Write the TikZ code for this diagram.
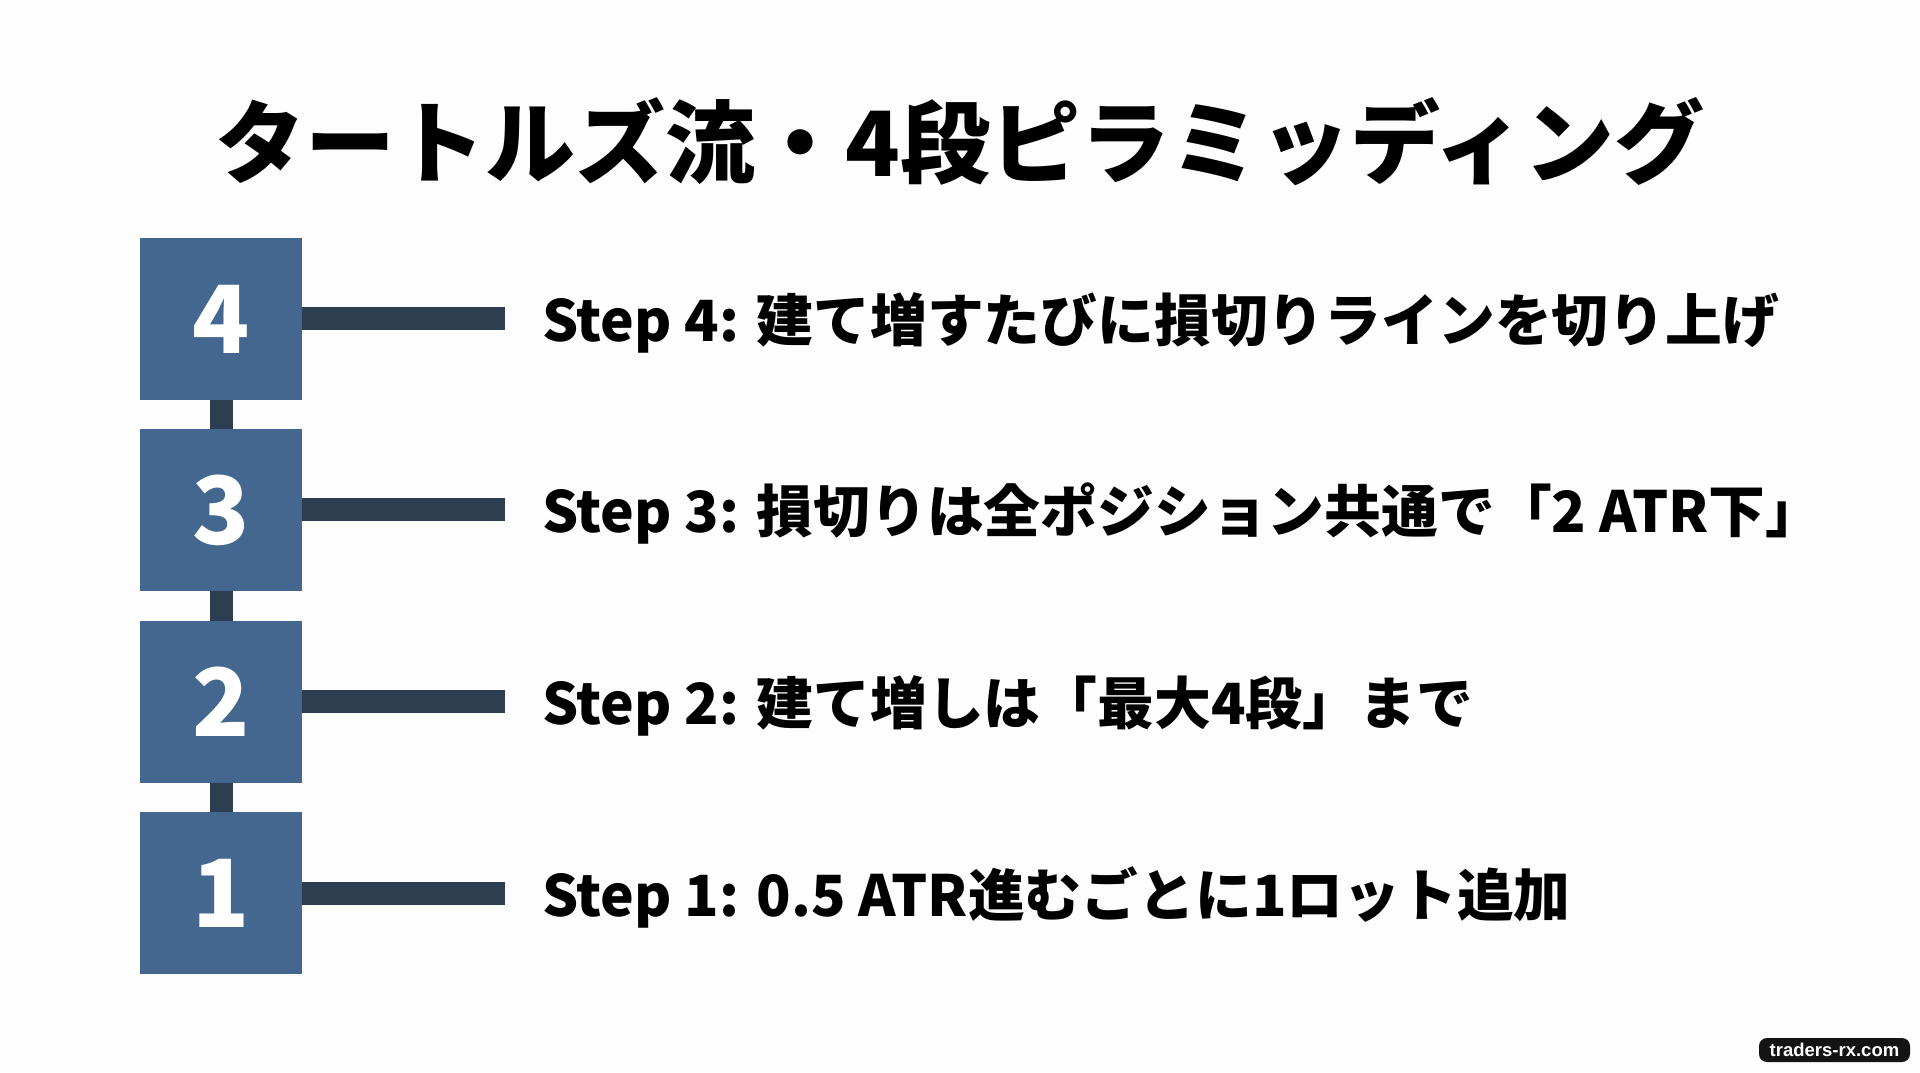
\documentclass[tikz,border=0pt]{standalone}
\usepackage{fontspec}
\setmainfont{Noto Sans CJK JP}[BoldFont={* Black}]
\newfontfamily\badgefont{Liberation Sans}
\usepackage{tikz}
\definecolor{boxblue}{HTML}{44678F}
\definecolor{barnavy}{HTML}{2C3E50}
\definecolor{paper}{HTML}{FDFDFD}
\definecolor{badgeblack}{HTML}{141414}
\tikzset{
  stepbox/.style={rectangle,fill=boxblue,minimum size=162pt,inner sep=0pt,text=white,font=\bfseries\fontsize{94}{94}\selectfont},
  bar/.style={draw=barnavy,line width=23pt},
  steptext/.style={anchor=west,inner sep=0pt,font=\bfseries\fontsize{56.8}{57}\selectfont,text=black},
}

\begin{document}
\begin{tikzpicture}[x=1pt,y=1pt]

  \fill[paper] (0,0) rectangle (1920,1072);
  \useasboundingbox (0,0) rectangle (1920,1072);

  \node[font=\bfseries\fontsize{90}{90}\selectfont,inner sep=0pt] (title) at (960,930) {タートルズ流・4段ピラミッディング};

  \node[stepbox] (n4) at (221,753) {4};
  \node[stepbox] (n3) at (221,562) {3};
  \node[stepbox] (n2) at (221,370) {2};
  \node[stepbox] (n1) at (221,179) {1};

  \coordinate (e4) at (505,753);
  \coordinate (e3) at (505,562);
  \coordinate (e2) at (505,370);
  \coordinate (e1) at (505,179);

  \node[steptext] (t4) at (542,749) {Step 4: 建て増すたびに損切りラインを切り上げ};
  \node[steptext] (t3) at (542,558) {Step 3: 損切りは全ポジション共通で「2 ATR下」};
  \node[steptext] (t2) at (542,366) {Step 2: 建て増しは「最大4段」まで};
  \node[steptext] (t1) at (542,175) {Step 1: 0.5 ATR進むごとに1ロット追加};

  \foreach \from/\to in {n4/n3, n3/n2, n2/n1}
    \draw[bar] (\from) -- (\to);
  \foreach \from/\to in {n4/e4, n3/e3, n2/e2, n1/e1}
    \draw[bar] (\from) -- (\to);

  \node[rectangle,rounded corners=8pt,fill=badgeblack,text=white,minimum width=151pt,minimum height=24pt,inner sep=0pt,font=\badgefont\bfseries\fontsize{18.5}{18.5}\selectfont] (badge) at (1834.5,22) {traders-rx.com};

\end{tikzpicture}
\end{document}
